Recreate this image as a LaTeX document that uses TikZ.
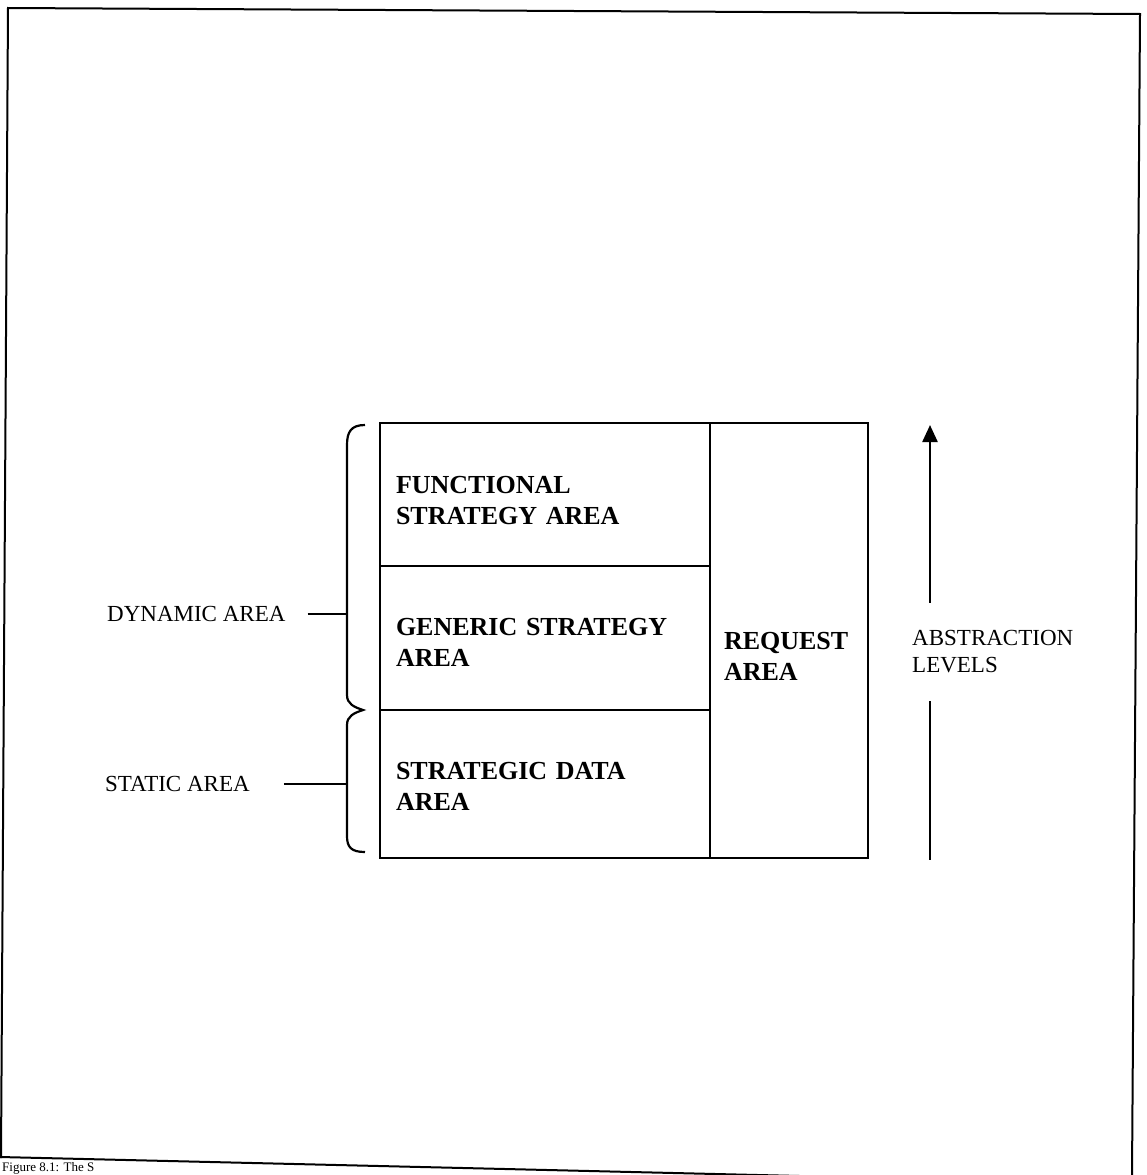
\documentclass[tikz,border=0pt]{standalone}
\usepackage{fontspec}
\setmainfont{Liberation Serif}
\usetikzlibrary{arrows.meta,calc,positioning}

\tikzset{
  area/.style={draw,line width=1.6pt,anchor=north west,outer sep=0pt,inner xsep=16pt,inner ysep=0pt,
    align=left,font=\bfseries\fontsize{26}{31}\selectfont},
  side/.style={inner sep=0pt,align=left,font=\fontsize{23}{27}\selectfont}
}

\begin{document}
\begin{tikzpicture}[x=1pt,y=-1pt,>={Triangle[length=17pt,width=15pt]}]
    \useasboundingbox (0,0) rectangle (1146,1175);
    % frame of the page
    \draw[line width=2pt] (1,1158) -- (8,8) -- (1140,14) -- (1132,1175);
    \draw[line width=2pt] (0,1157) -- (800,1176);
    \node[side,anchor=base west,font=\fontsize{13}{15}\selectfont] (cap) at (2,1171) {Figure 8.1: The S};
    % the four areas
    \node[area,text width=298pt,minimum height=143pt] (fsa) at (380,423) {\rule{0pt}{30pt}FUNCTIONAL\\STRATEGY AREA};
    \node[area,text width=298pt,minimum height=144pt] (gsa) at (fsa.south west) {\rule{0pt}{26pt}GENERIC STRATEGY\\AREA};
    \node[area,text width=298pt,minimum height=148pt] (sda) at (gsa.south west) {\rule{0pt}{21pt}STRATEGIC DATA\\AREA};
    \node[area,text width=130pt,inner xsep=14pt,minimum height=435pt] (req) at (fsa.north east) {\rule{0pt}{48pt}REQUEST\\AREA};
    % brace on the left
    \draw[line width=2.2pt] (365,425) .. controls (351,425) and (347,432) .. (347,445) -- (347,695)
        .. controls (347,704) and (354,707) .. (363,710) .. controls (354,713) and (347,716) .. (347,725)
        -- (347,836) .. controls (347,847) and (351,852) .. (365,852);
    \coordinate (dynb) at (347,614);
    \coordinate (stab) at (347,784);
    \node[side,anchor=west] (dyn) at (107,614) {DYNAMIC AREA};
    \node[side,anchor=west] (sta) at (105,784) {STATIC AREA};
    \draw[line width=2pt] ([xshift=22pt]dyn.east) -- (dynb);
    \draw[line width=2pt] ([xshift=34pt]sta.east) -- (stab);
    % abstraction levels
    \coordinate (lvtop) at (930,425);
    \coordinate (lvbot) at (930,860);
    \node[side,anchor=west,outer ysep=28pt] (lev) at (912,652) {ABSTRACTION\\LEVELS};
    \draw[->,line width=2.4pt] (lev.north -| lvtop) -- (lvtop);
    \draw[line width=2.4pt] (lev.south -| lvbot) -- (lvbot);
\end{tikzpicture}
\end{document}
